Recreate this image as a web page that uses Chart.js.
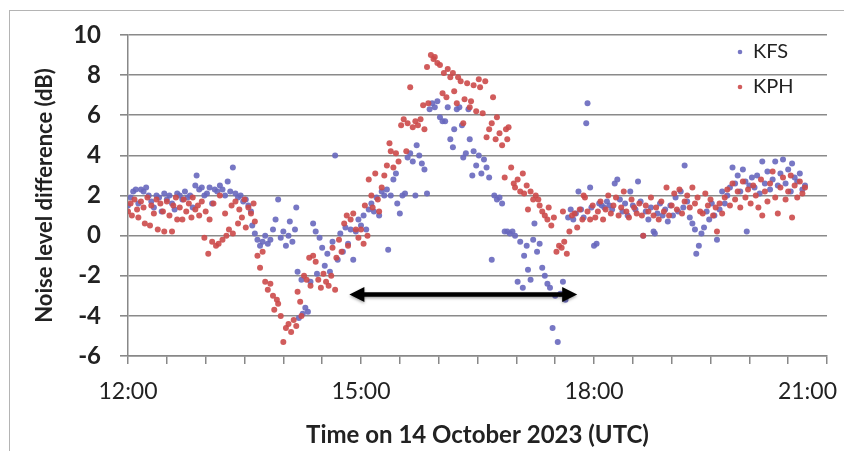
<!DOCTYPE html>
<html>
<head>
<meta charset="utf-8">
<script src="https://cdn.jsdelivr.net/npm/chart.js@4.4.0/dist/chart.umd.min.js"></script>
<style>
  html, body { margin: 0; padding: 0; background: #fff; }
  #wrap { position: relative; width: 844px; height: 451px; }
  #frame { position: absolute; left: 9px; top: 10px; right: 0; bottom: 0;
           border-left: 1px solid #b4b4b4; border-top: 1px solid #b4b4b4; pointer-events: none; }
</style>
</head>
<body>
<div id="wrap">
  <canvas id="myChart" width="844" height="451"></canvas>
  <div id="frame"></div>
</div>
<script>
// [minutes after 12:00 UTC, dB]
var kfs = [
  [0,1.5],[2,1.9],[4,2.2],[6,2.3],[8,1.6],[10,2.3],[12,2.2],[14,2.4],[16,2.0],[18,1.7],
  [20,1.4],[22,2.0],[24,1.9],[26,1.2],[28,2.1],[30,1.8],[32,2.0],[34,1.6],[36,1.3],[38,2.1],
  [40,2.0],[42,1.8],[44,2.2],[46,1.9],[48,2.0],[50,1.4],[52,2.5],[53,3.0],[55,2.3],[57,2.4],
  [59,2.0],[61,2.1],[63,2.4],[65,1.6],[67,2.3],[69,2.2],[71,2.5],[73,2.3],[75,2.0],[77,2.7],
  [79,2.2],[81,3.4],[83,2.1],[85,1.9],[87,2.0],[89,1.7],[91,1.8],[93,1.5],[95,1.2],[96,0.5],
  [98,0.1],[100,-0.2],[102,-0.5],[104,-0.3],[106,0.0],[108,-0.4],[110,-0.2],[112,0.3],[114,0.8],[116,1.8],
  [118,-0.1],[120,0.2],[122,-0.5],[124,0.0],[125,0.7],[127,-0.3],[129,0.3],[130,1.4],[131,-1.8],[132,-4.1],
  [134,-2.2],[135,-3.9],[137,-3.6],[139,-3.8],[141,-2.3],[143,0.6],[145,0.2],[146,-1.9],[148,-0.1],[150,-0.6],
  [152,-1.5],[154,-0.9],[156,-1.8],[158,-0.3],[160,4.0],[162,-1.2],[164,0.1],[166,-0.8],[168,0.4],[170,-0.4],
  [172,0.3],[174,-1.2],[176,0.2],[178,0.8],[180,0.5],[182,1.0],[184,0.3],[186,1.3],[188,1.6],[190,1.2],
  [192,1.9],[194,1.0],[196,2.2],[198,2.0],[200,2.3],[201,-0.7],[203,2.0],[205,2.8],[207,3.1],[208,1.6],
  [210,1.1],[212,2.0],[214,2.1],[216,3.9],[218,4.1],[220,3.7],[222,2.0],[223,4.5],[225,4.0],[227,3.6],
  [229,3.3],[231,2.1],[233,6.3],[235,6.6],[237,6.4],[239,6.7],[241,5.9],[243,5.7],[245,5.7],[247,6.4],
  [249,4.8],[251,4.4],[252,5.3],[254,6.3],[256,6.4],[258,5.5],[259,3.9],[261,4.1],[263,6.3],[264,4.8],
  [266,3.0],[267,4.2],[269,3.5],[271,4.0],[273,3.1],[275,3.8],[277,3.4],[279,2.9],[281,-1.2],[283,2.0],
  [285,1.8],[287,1.9],[289,1.6],[291,0.2],[293,0.2],[295,0.1],[297,0.2],[299,0.0],[301,-2.3],[303,-0.3],
  [305,-2.6],[306,-1.0],[308,-0.5],[309,-1.7],[311,-2.2],[313,-0.2],[314,0.6],[316,-0.8],[318,-0.4],[320,-1.6],
  [322,-2.0],[324,-2.4],[326,-2.6],[328,-4.6],[330,-3.0],[332,-5.3],[334,-2.9],[336,-2.3],[338,-3.2],[340,0.9],
  [342,1.3],[344,0.8],[346,1.1],[348,2.2],[350,1.3],[352,0.9],[354,5.6],[355,6.6],[357,2.4],[358,1.4],
  [360,-0.5],[362,-0.4],[364,1.6],[366,1.5],[368,1.4],[370,1.7],[372,1.5],[374,1.3],[376,2.6],[378,2.8],
  [380,1.8],[382,1.2],[384,1.6],[386,1.0],[388,2.2],[390,1.5],[392,1.3],[394,2.7],[396,1.7],[398,0.0],
  [400,1.2],[402,0.8],[404,1.4],[406,0.2],[407,0.1],[409,1.1],[411,1.6],[413,1.0],[415,1.3],[417,0.7],
  [419,1.5],[421,1.0],[423,1.9],[425,1.2],[427,2.2],[429,1.4],[430,3.5],[432,1.7],[434,0.9],[436,0.6],
  [438,0.3],[439,-0.9],[441,-0.5],[443,0.1],[445,0.4],[447,1.2],[449,0.8],[451,1.6],[453,1.0],[455,-0.2],
  [457,1.3],[459,2.2],[461,1.6],[463,2.0],[465,2.4],[467,3.4],[469,2.6],[471,3.0],[473,2.2],[475,3.3],
  [477,2.7],[478,0.2],[480,2.5],[482,2.9],[484,2.4],[486,3.0],[488,2.1],[490,3.7],[492,2.6],[494,3.2],
  [496,2.3],[498,2.8],[500,3.7],[502,2.5],[504,3.1],[506,3.8],[508,2.6],[510,3.3],[512,2.2],[513,3.6],
  [515,2.9],[517,2.7],[519,3.1],[521,2.3],[523,2.5]
];

var kph = [
  [0,1.2],[2,1.6],[3,1.0],[5,1.8],[7,1.3],[8,0.9],[10,1.7],[12,1.4],[13,0.6],[15,1.9],
  [17,0.5],[18,1.5],[20,1.1],[22,1.8],[23,0.3],[25,1.6],[27,1.2],[28,0.2],[30,1.7],[32,1.0],
  [34,0.2],[35,1.5],[37,1.9],[38,0.8],[40,1.4],[42,0.8],[43,1.8],[45,1.2],[47,1.6],[49,0.9],
  [50,1.9],[52,1.3],[54,1.5],[55,1.0],[57,1.7],[59,-0.1],[60,1.2],[62,-0.9],[63,0.8],[65,-0.3],
  [66,1.6],[68,-0.5],[70,-0.4],[71,2.0],[73,-0.2],[75,1.1],[76,0.0],[78,0.3],[80,1.5],[81,0.1],
  [83,1.7],[85,0.6],[86,1.3],[88,0.9],[90,1.8],[91,0.4],[93,1.4],[95,1.1],[97,1.6],[98,0.7],
  [100,-1.0],[102,-1.6],[104,-0.8],[106,-2.3],[108,-2.7],[110,-2.4],[112,-3.0],[113,-3.7],[115,-3.2],[116,-3.4],
  [118,-4.0],[120,-5.3],[122,-4.6],[124,-4.4],[126,-4.8],[128,-4.2],[130,-4.5],[131,-2.8],[133,-3.3],[134,-4.0],
  [136,-2.0],[138,-2.2],[140,-1.1],[141,-2.5],[143,-1.0],[145,-1.3],[147,-2.2],[149,-2.6],[151,-1.9],[153,-2.3],
  [155,-2.5],[157,-2.0],[158,-0.6],[160,-2.7],[161,-1.1],[163,-0.2],[165,-0.8],[167,0.6],[169,1.0],[170,-0.5],
  [172,0.8],[174,1.1],[176,0.3],[178,-0.1],[180,0.3],[182,-0.4],[183,1.5],[185,0.0],[186,2.8],[188,2.0],
  [189,1.4],[191,3.1],[193,1.8],[194,1.2],[196,2.4],[198,3.0],[200,3.5],[202,4.6],[203,4.2],[205,3.4],
  [207,4.1],[209,3.7],[211,5.5],[213,5.8],[215,4.2],[216,5.6],[218,7.4],[220,5.4],[222,5.7],[224,5.5],
  [226,5.8],[228,6.5],[229,5.3],[231,8.4],[232,6.6],[234,9.0],[236,8.8],[237,8.9],[239,8.6],[241,8.5],
  [243,7.1],[244,8.1],[246,6.9],[247,8.3],[249,7.9],[251,8.1],[252,7.2],[254,6.6],[255,7.9],[257,7.7],
  [259,5.6],[260,6.8],[262,7.6],[264,6.4],[265,6.7],[267,7.5],[269,6.2],[271,7.8],[272,7.4],[274,6.1],
  [276,7.7],[277,4.9],[279,5.3],[281,5.6],[282,6.9],[284,4.8],[285,5.9],[287,5.1],[289,4.5],[291,2.9],
  [292,5.3],[293,4.8],[294,5.4],[296,3.4],[298,2.6],[299,2.4],[301,2.8],[303,2.2],[305,3.1],[306,2.1],
  [308,2.5],[309,1.3],[311,2.2],[313,1.8],[315,2.0],[317,1.8],[318,1.5],[320,1.2],[322,1.0],[324,0.8],
  [325,1.4],[327,0.5],[329,0.9],[331,-0.8],[333,-0.5],[335,-0.6],[336,1.2],[337,-0.3],[339,-0.9],[341,0.2],
  [343,1.0],[345,1.1],[347,0.4],[349,1.3],[351,0.8],[352,2.0],[353,1.9],[355,1.2],[357,0.8],[359,1.5],
  [361,0.9],[363,1.2],[365,1.7],[367,0.8],[369,1.3],[371,2.0],[373,1.1],[375,1.5],[377,1.9],[379,1.0],
  [381,1.4],[383,2.2],[385,1.2],[387,0.9],[389,1.8],[391,1.4],[393,1.1],[395,1.6],[397,1.0],[398,0.0],
  [400,1.5],[402,1.2],[404,1.9],[406,1.0],[408,1.4],[410,0.8],[412,1.7],[414,1.2],[416,2.4],[418,1.0],
  [420,1.5],[422,2.1],[424,1.3],[426,2.3],[428,1.1],[430,1.7],[432,2.0],[434,1.4],[436,2.4],[438,1.6],
  [440,1.9],[442,1.2],[444,1.1],[446,2.1],[448,1.5],[450,1.8],[452,1.0],[454,1.4],[455,0.2],[457,1.6],
  [459,1.1],[461,1.9],[463,2.3],[465,1.5],[467,2.6],[469,1.8],[471,2.2],[473,1.4],[475,2.7],[477,1.9],
  [479,2.3],[481,1.6],[483,2.5],[485,2.0],[487,1.4],[489,2.8],[490,1.0],[492,2.2],[494,1.7],[496,2.6],
  [498,3.2],[500,1.9],[502,1.1],[504,2.4],[506,2.9],[508,1.8],[510,2.2],[512,3.0],[513,0.9],[515,2.5],
  [517,1.9],[519,2.7],[521,2.1],[523,2.4]
];

var xTickLabels = ['12:00', '15:00', '18:00', '21:00'];
// seta: inicio e fim (minutos) e nivel (dB)
var arrowSpan = [171, 347];
var arrowLevel = -2.93;

function toXY(arr) {
  return arr.map(function (p) { return { x: p[0], y: p[1] }; });
}

var arrowPlugin = {
  id: 'arrow',
  afterDatasetsDraw: function (chart) {
    var c = chart.ctx;
    var xs = chart.scales.x, ys = chart.scales.y;
    var x1 = xs.getPixelForValue(arrowSpan[0]);
    var x2 = xs.getPixelForValue(arrowSpan[1]);
    var y = ys.getPixelForValue(arrowLevel);
    var head = 15, half = 7.5;
    c.save();
    c.shadowColor = 'rgba(0,0,0,0.35)';
    c.shadowBlur = 3;
    c.shadowOffsetY = 1.5;
    c.fillStyle = '#000';
    c.strokeStyle = '#000';
    c.lineWidth = 4.5;
    c.beginPath();
    c.moveTo(x1 + head - 2, y);
    c.lineTo(x2 - head + 2, y);
    c.stroke();
    c.beginPath();
    c.moveTo(x1, y); c.lineTo(x1 + head, y - half); c.lineTo(x1 + head, y + half); c.closePath();
    c.fill();
    c.beginPath();
    c.moveTo(x2, y); c.lineTo(x2 - head, y - half); c.lineTo(x2 - head, y + half); c.closePath();
    c.fill();
    c.restore();
  }
};

// legenda dentro do grafico + ultimo rotulo do eixo x (encostado na borda, como no Excel)
var legendPlugin = {
  id: 'innerLegend',
  afterDraw: function (chart) {
    var c = chart.ctx, a = chart.chartArea;
    c.save();
    c.font = '20px Lato';
    c.textBaseline = 'middle';
    chart.data.datasets.forEach(function (ds, i) {
      var y = a.top + 17 + i * 35;
      var x = a.right - 87;
      c.fillStyle = ds.backgroundColor;
      c.beginPath();
      c.arc(x, y, 2.3, 0, Math.PI * 2);
      c.fill();
      c.fillStyle = '#222';
      c.fillText(ds.label, x + 13, y);
    });
    c.font = '23px Lato';
    c.fillStyle = '#222';
    c.textAlign = 'right';
    c.textBaseline = 'middle';
    c.fillText(xTickLabels[xTickLabels.length - 1], chart.width - 7, a.bottom + 36);
    c.restore();
  }
};

var ctx = document.getElementById('myChart').getContext('2d');
var chart = new Chart(ctx, {
  type: 'scatter',
  data: {
    datasets: [
      {
        label: 'KFS',
        data: toXY(kfs),
        backgroundColor: 'rgba(104,104,190,0.9)',
        borderWidth: 0,
        pointRadius: 3,
        order: 1
      },
      {
        label: 'KPH',
        data: toXY(kph),
        backgroundColor: 'rgba(204,74,74,0.9)',
        borderWidth: 0,
        pointRadius: 3,
        order: 0
      }
    ]
  },
  options: {
    responsive: false,
    animation: false,
    layout: { padding: { left: 0, top: 35, right: 17, bottom: 0 } },
    plugins: {
      legend: { display: false },
      tooltip: { enabled: false }
    },
    scales: {
      x: {
        type: 'linear',
        min: 0,
        max: 540,
        afterFit: function (s) { s.height = 95; s.paddingLeft = 0; s.paddingRight = 0; },
        ticks: {
          stepSize: 30,
          autoSkip: false,
          maxRotation: 0,
          padding: 14,
          color: '#222',
          font: { family: 'Lato', size: 23 },
          callback: function (v) {
            // o ultimo rotulo e desenhado no plugin
            return (v % 180 === 0 && v < 540) ? xTickLabels[v / 180] : '';
          }
        },
        grid: { drawOnChartArea: false, tickColor: '#888', tickLength: 8, lineWidth: 1.5 },
        border: { color: '#888', width: 1.5 },
        title: {
          display: true,
          text: 'Time on 14 October 2023 (UTC)',
          color: '#222',
          font: { family: 'Lato', size: 24, weight: 'bold' },
          padding: { top: 0, bottom: 1 }
        }
      },
      y: {
        min: -6,
        max: 10,
        afterFit: function (s) { s.width = 128; },
        ticks: {
          stepSize: 1,
          padding: 19,
          color: '#222',
          font: { family: 'Lato', size: 24, weight: 'bold' },
          callback: function (v) { return v % 2 === 0 ? String(v) : ''; }
        },
        grid: {
          color: function (c) { return c.tick && c.tick.value % 2 === 0 ? '#8a8a8a' : 'rgba(0,0,0,0)'; },
          tickColor: '#888',
          tickLength: 8,
          lineWidth: 1.6
        },
        border: { color: '#888', width: 1.5 },
        title: {
          display: true,
          text: 'Noise level difference (dB)',
          color: '#222',
          font: { family: 'Lato', size: 22, weight: 'bold' },
          padding: { top: 32, bottom: 0 }
        }
      }
    }
  },
  plugins: [arrowPlugin, legendPlugin]
});
</script>
</body>
</html>
